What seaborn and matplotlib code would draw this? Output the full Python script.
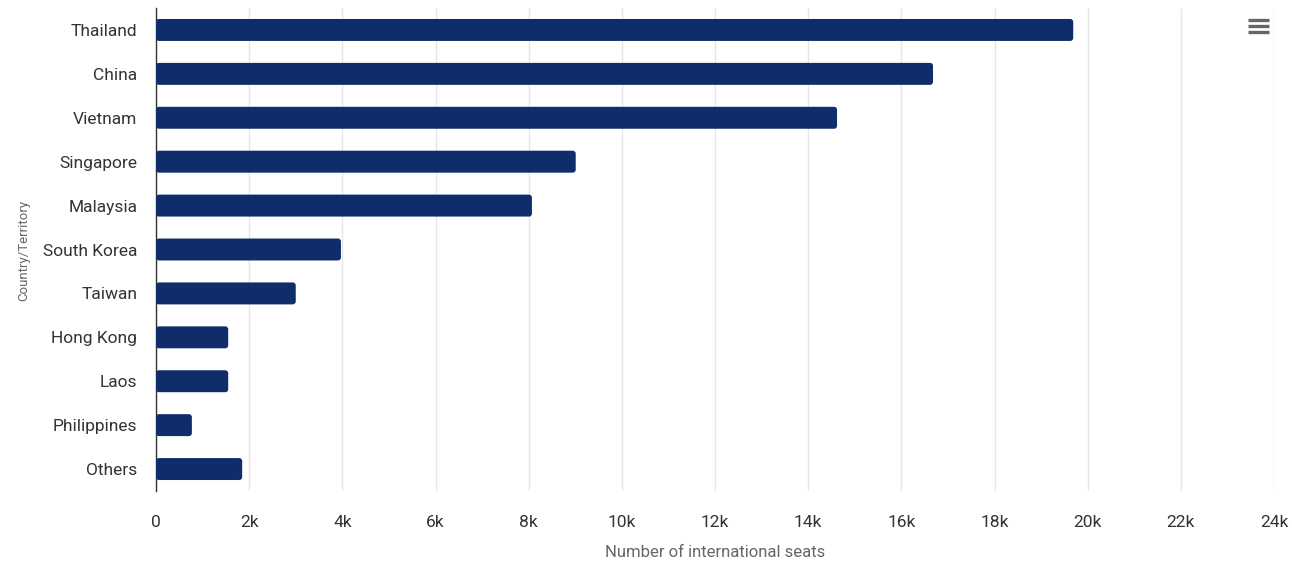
import matplotlib.pyplot as plt
import seaborn as sns
import pandas as pd
from matplotlib.patches import FancyBboxPatch
from matplotlib.lines import Line2D

countries = ['Thailand', 'China', 'Vietnam', 'Singapore', 'Malaysia', 'South Korea',
             'Taiwan', 'Hong Kong', 'Laos', 'Philippines', 'Others']
seats = [19690, 16680, 14620, 9010, 8070, 3970, 3000, 1550, 1550, 770, 1850]
xticks = [0, 2000, 4000, 6000, 8000, 10000, 12000, 14000, 16000, 18000, 20000, 22000, 24000]
xticklabels = ['0', '2k', '4k', '6k', '8k', '10k', '12k', '14k', '16k', '18k', '20k', '22k', '24k']

df = pd.DataFrame({'country': countries, 'seats': seats})

sns.set_style('white')
plt.rcParams['font.family'] = ['Roboto', 'DejaVu Sans']

fig = plt.figure(figsize=(12.92, 5.72), dpi=100)
ax = fig.add_axes([156 / 1292, 1 - 491 / 572, (1274 - 156) / 1292, 483 / 572])

sns.barplot(data=df, y='country', x='seats', color='#0f2d6b', width=0.5, ax=ax,
            saturation=1, zorder=3)

# rounded bar corners
px_x = (1274 - 156) / 24000
px_y = 483 / 11
for p in list(ax.patches):
    x0, y0 = p.get_x(), p.get_y()
    w, h = p.get_width(), p.get_height()
    r = 3 / px_x
    box = FancyBboxPatch((x0, y0), w, h, boxstyle=f'round,pad=0,rounding_size={r}',
                         mutation_aspect=px_x / px_y, facecolor='#0f2d6b',
                         edgecolor='none', zorder=3)
    p.remove()
    ax.add_patch(box)

ax.set_xlim(0, 24000)
ax.set_ylim(10.5, -0.5)
ax.set_xticks(xticks)
ax.set_xticklabels(xticklabels)
ax.grid(axis='x', color='#e6e6e6', linewidth=1, zorder=0)
ax.tick_params(axis='x', length=0, pad=17, labelsize=12.5, labelcolor='#333333')
ax.tick_params(axis='y', length=0, pad=13.5, labelsize=12.5, labelcolor='#333333')
for s in ['top', 'right', 'bottom']:
    ax.spines[s].set_visible(False)
ax.spines['left'].set_color('#333333')
ax.spines['left'].set_linewidth(1)

ax.set_xlabel('Number of international seats', fontsize=12, color='#666666', labelpad=11)
ax.set_ylabel('')
fig.text(24 / 1292, 1 - 250 / 572, 'Country/Territory', rotation=90,
         fontsize=9.5, color='#666666', ha='center', va='center')

# menu icon
for yy in [20, 26, 32]:
    fig.add_artist(Line2D([1248 / 1292, 1269 / 1292], [1 - yy / 572, 1 - yy / 572],
                          color='#666666', linewidth=2.4, solid_capstyle='butt'))

fig.savefig('out.png', dpi=100)
